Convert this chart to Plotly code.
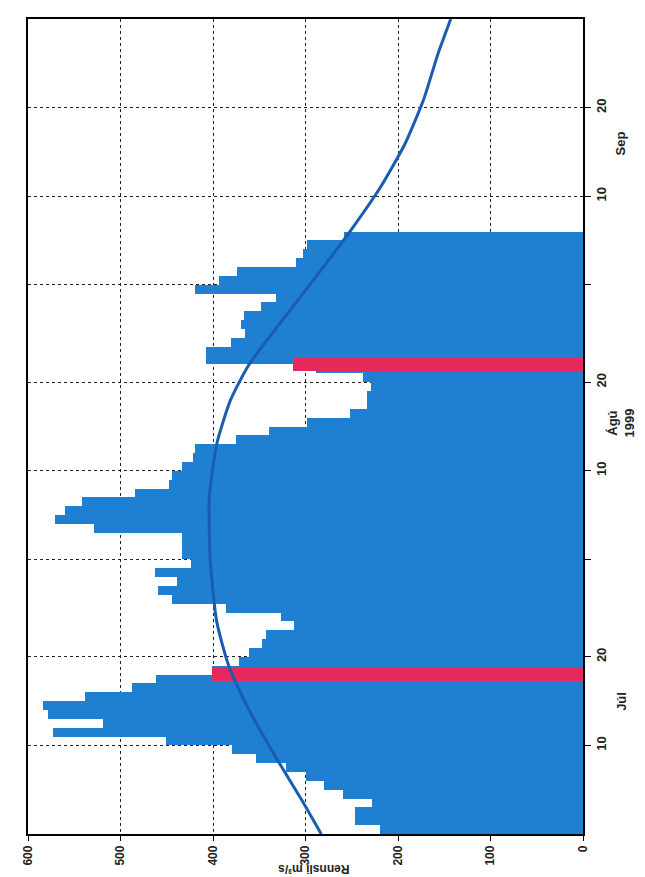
import pandas as pd
import plotly.graph_objects as go

# ---------------- data ----------------
flow_jul = [220, 247, 247, 228, 260, 280, 299, 321, 354, 379,
            451, 573, 519, 578, 584, 538, 488, 462, 401, 372,
            361, 347, 343, 312, 326, 386, 444, 460, 439, 463, 424]
flow_aug = [433, 433, 433, 529, 571, 560, 542, 484, 448, 444,
            433, 422, 419, 375, 339, 298, 252, 233, 233, 229,
            238, 289, 408, 408, 381, 365, 370, 366, 348, 332, 419]
flow_sep = [394, 374, 310, 303, 298, 258]
flow = flow_jul + flow_aug + flow_sep
day_centres = pd.date_range("1999-07-01 12:00", periods=len(flow), freq="D")

red_dates = ["1999-07-19 00:00", "1999-08-23 00:00"]
red_values = [401, 313]

curve_dates = ["1999-07-01", "1999-07-05", "1999-07-10", "1999-07-15", "1999-07-20",
               "1999-07-25", "1999-08-01", "1999-08-08", "1999-08-14", "1999-08-19",
               "1999-08-23", "1999-08-28", "1999-09-02", "1999-09-07", "1999-09-12",
               "1999-09-17", "1999-09-22", "1999-09-27", "1999-10-01"]
curve_values = [283, 305, 334, 361, 383,
                396, 403, 404, 396, 381,
                361, 325, 288, 252, 219,
                192, 172, 157, 143]

date_tick_vals = ["1999-07-11", "1999-07-21", "1999-08-01", "1999-08-11",
                  "1999-08-21", "1999-09-01", "1999-09-11", "1999-09-21"]
date_tick_text = ["10", "20", "", "10", "20", "", "10", "20"]
month_labels = ["Júl", "Ágú<br>1999", "Sep"]
month_label_dates = ["1999-07-16", "1999-08-16 10:00", "1999-09-16 22:00"]
value_ticks = [0, 100, 200, 300, 400, 500, 600]
axis_title = "Rennsli m³/s"

# ---------------- figure ----------------
DAY_MS = 86400000
FONT = "Liberation Sans, Arial, sans-serif"

fig = go.Figure()
fig.add_trace(go.Bar(
    x=flow, y=day_centres, orientation="h", width=DAY_MS,
    marker=dict(color="#1f7fd0", line=dict(width=0)), showlegend=False))
fig.add_trace(go.Bar(
    x=red_values, y=pd.to_datetime(red_dates), orientation="h", width=1.4 * DAY_MS,
    marker=dict(color="#e6285a", line=dict(width=0)), showlegend=False))
fig.add_trace(go.Scatter(
    x=curve_values, y=pd.to_datetime(curve_dates), mode="lines",
    line=dict(color="#1a5db0", width=3, shape="spline", smoothing=0.6),
    showlegend=False))

for txt, d in zip(month_labels, month_label_dates):
    fig.add_annotation(
        x=1.068, xref="paper", y=d, yref="y", text=txt, showarrow=False,
        textangle=-90, xanchor="center", yanchor="middle",
        font=dict(family=FONT, size=13, color="#222", weight="bold"))

fig.add_annotation(
    x=0.514, xref="paper", y=-0.043, yref="paper", text=axis_title,
    showarrow=False, textangle=180, xanchor="center", yanchor="middle",
    font=dict(family=FONT, size=12, color="#222", weight="bold"))

fig.update_layout(
    width=645, height=877,
    margin=dict(l=20, r=70, t=9, b=51),
    paper_bgcolor="white", plot_bgcolor="white",
    barmode="overlay", bargap=0,
    xaxis=dict(
        range=[600, 0], tickvals=value_ticks, tickangle=-90,
        tickfont=dict(family=FONT, size=12, color="#222", weight="bold"),
        showgrid=True, gridcolor="#222", griddash="dot", gridwidth=1,
        showline=True, linecolor="black", linewidth=1.5, mirror=True,
        ticks="outside", ticklen=5, tickcolor="black", zeroline=False),
    yaxis=dict(
        type="date", range=["1999-07-01", "1999-10-01"], side="right",
        tickvals=date_tick_vals, ticktext=date_tick_text, tickangle=-90,
        tickfont=dict(family=FONT, size=13, color="#222", weight="bold"),
        showgrid=True, gridcolor="#222", griddash="dot", gridwidth=1,
        showline=True, linecolor="black", linewidth=1.5, mirror=True,
        ticks="outside", ticklen=6, tickcolor="black", zeroline=False),
)

fig.write_html("out.html")
